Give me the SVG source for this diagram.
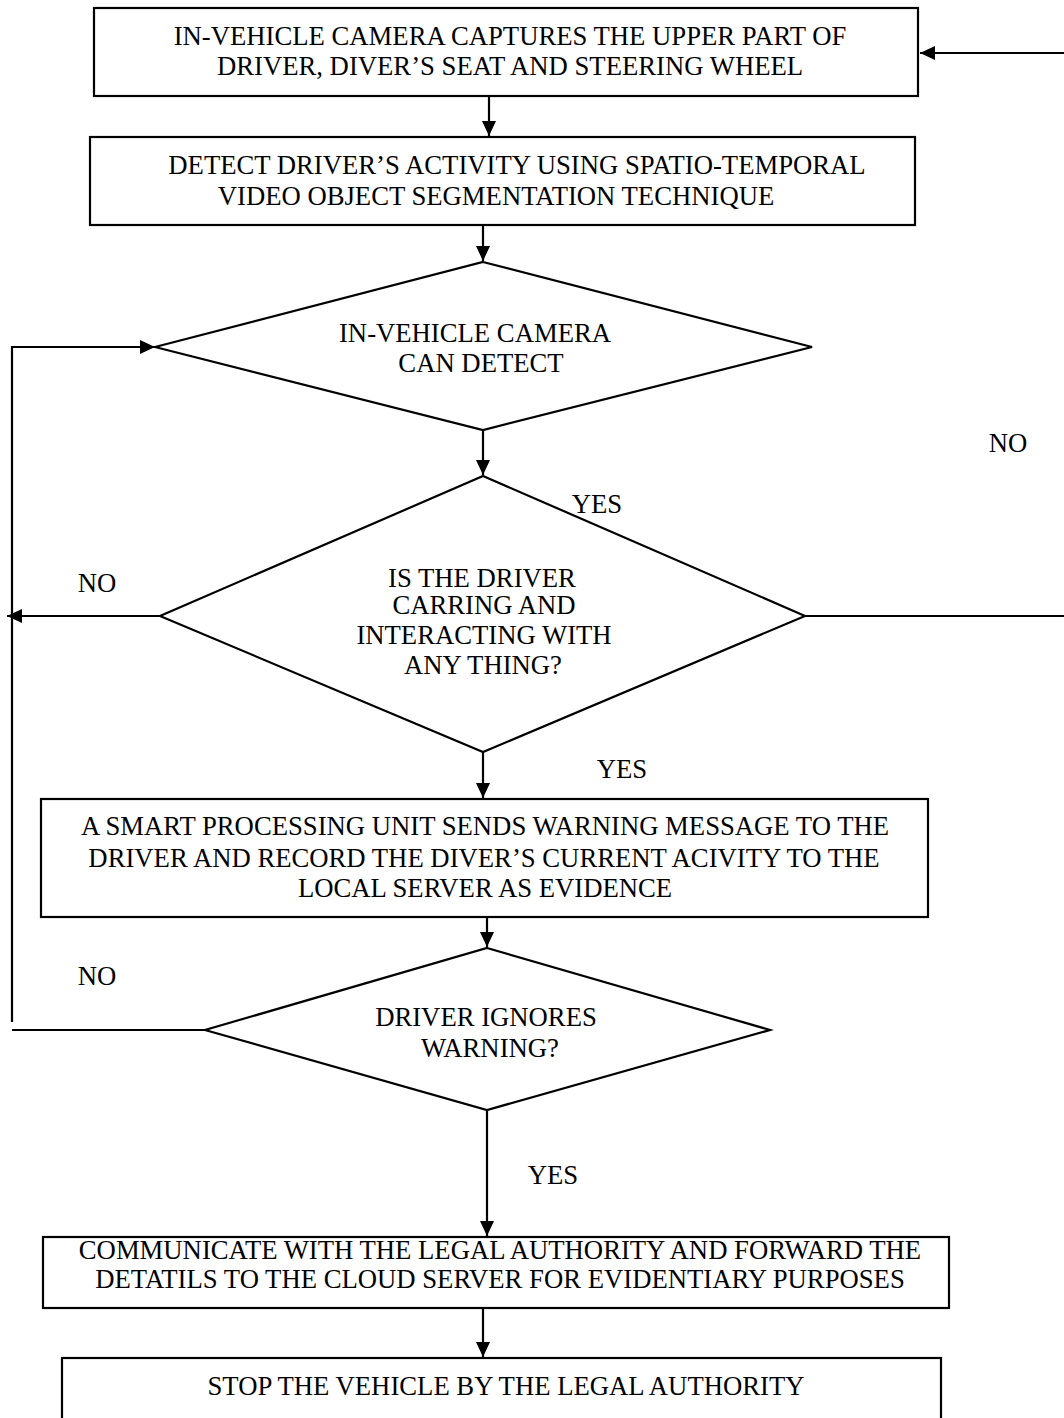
<svg xmlns="http://www.w3.org/2000/svg" width="1064" height="1418" viewBox="0 0 1064 1418">
<style>
.box{fill:#fff;stroke:#000;stroke-width:2.2}
.t{font-family:"Liberation Serif","Times New Roman",serif;font-size:26.7px;fill:#000;text-anchor:middle}
.c{fill:none;stroke:#000;stroke-width:2.2}
</style>
<defs>
<marker id="ah" markerUnits="userSpaceOnUse" markerWidth="16" markerHeight="14" refX="15" refY="7" orient="auto">
<path d="M0,0 L15,7 L0,14 Z" fill="#000"/>
</marker>
</defs>
<rect width="1064" height="1418" fill="#fff"/>
<g id="connectors">
<line class="c" x1="1064" y1="53" x2="920" y2="53" marker-end="url(#ah)"/>
<line class="c" x1="489" y1="96" x2="489" y2="136" marker-end="url(#ah)"/>
<line class="c" x1="483" y1="225" x2="483" y2="261" marker-end="url(#ah)"/>
<line class="c" x1="483" y1="430" x2="483" y2="475" marker-end="url(#ah)"/>
<line class="c" x1="483" y1="752" x2="483" y2="798" marker-end="url(#ah)"/>
<line class="c" x1="487" y1="917" x2="487" y2="947" marker-end="url(#ah)"/>
<line class="c" x1="487" y1="1110" x2="487" y2="1236" marker-end="url(#ah)"/>
<line class="c" x1="483" y1="1308" x2="483" y2="1357" marker-end="url(#ah)"/>
<polyline class="c" points="12,1022 12,347 155,347" marker-end="url(#ah)"/>
<line class="c" x1="160" y1="616" x2="7" y2="616" marker-end="url(#ah)"/>
<line class="c" x1="805" y1="616" x2="1064" y2="616"/>
<line class="c" x1="12" y1="1030" x2="205" y2="1030"/>
<text class="t" x="1008" y="452">NO</text>
<text class="t" x="597" y="513">YES</text>
<text class="t" x="97" y="592">NO</text>
<text class="t" x="622" y="778">YES</text>
<text class="t" x="97" y="985">NO</text>
<text class="t" x="553" y="1184">YES</text>
</g>
<g id="n1">
<rect class="box" x="94" y="8" width="824" height="88"/>
<text class="t" x="510" y="45">IN-VEHICLE CAMERA CAPTURES THE UPPER PART OF</text>
<text class="t" x="510" y="75">DRIVER, DIVER’S SEAT AND STEERING WHEEL</text>
</g>
<g id="n2">
<rect class="box" x="90" y="137" width="825" height="88"/>
<text class="t" x="517" y="174">DETECT DRIVER’S ACTIVITY USING SPATIO-TEMPORAL</text>
<text class="t" x="496" y="205">VIDEO OBJECT SEGMENTATION TECHNIQUE</text>
</g>
<g id="d1">
<polygon class="box" points="483,262 812,347 483,430 155,347"/>
<text class="t" x="475" y="342">IN-VEHICLE CAMERA</text>
<text class="t" x="481" y="372">CAN DETECT</text>
</g>
<g id="d2">
<polygon class="box" points="483,476 805,616 483,752 160,616"/>
<text class="t" x="482" y="587">IS THE DRIVER</text>
<text class="t" x="484" y="614">CARRING AND</text>
<text class="t" x="484" y="644">INTERACTING WITH</text>
<text class="t" x="483" y="674">ANY THING?</text>
</g>
<g id="n3">
<rect class="box" x="41" y="799" width="887" height="118"/>
<text class="t" x="485" y="835">A SMART PROCESSING UNIT SENDS WARNING MESSAGE TO THE</text>
<text class="t" x="484" y="867">DRIVER AND RECORD THE DIVER’S CURRENT ACIVITY TO THE</text>
<text class="t" x="485" y="897">LOCAL SERVER AS EVIDENCE</text>
</g>
<g id="d3">
<polygon class="box" points="487,948 770,1030 487,1110 205,1030"/>
<text class="t" x="486" y="1026">DRIVER IGNORES</text>
<text class="t" x="490" y="1057">WARNING?</text>
</g>
<g id="n4">
<rect class="box" x="43" y="1237" width="906" height="71"/>
<text class="t" x="500" y="1259">COMMUNICATE WITH THE LEGAL AUTHORITY AND FORWARD THE</text>
<text class="t" x="500" y="1288">DETATILS TO THE CLOUD SERVER FOR EVIDENTIARY PURPOSES</text>
</g>
<g id="n5">
<rect class="box" x="62" y="1358" width="879" height="80"/>
<text class="t" x="506" y="1395">STOP THE VEHICLE BY THE LEGAL AUTHORITY</text>
</g>
</svg>
